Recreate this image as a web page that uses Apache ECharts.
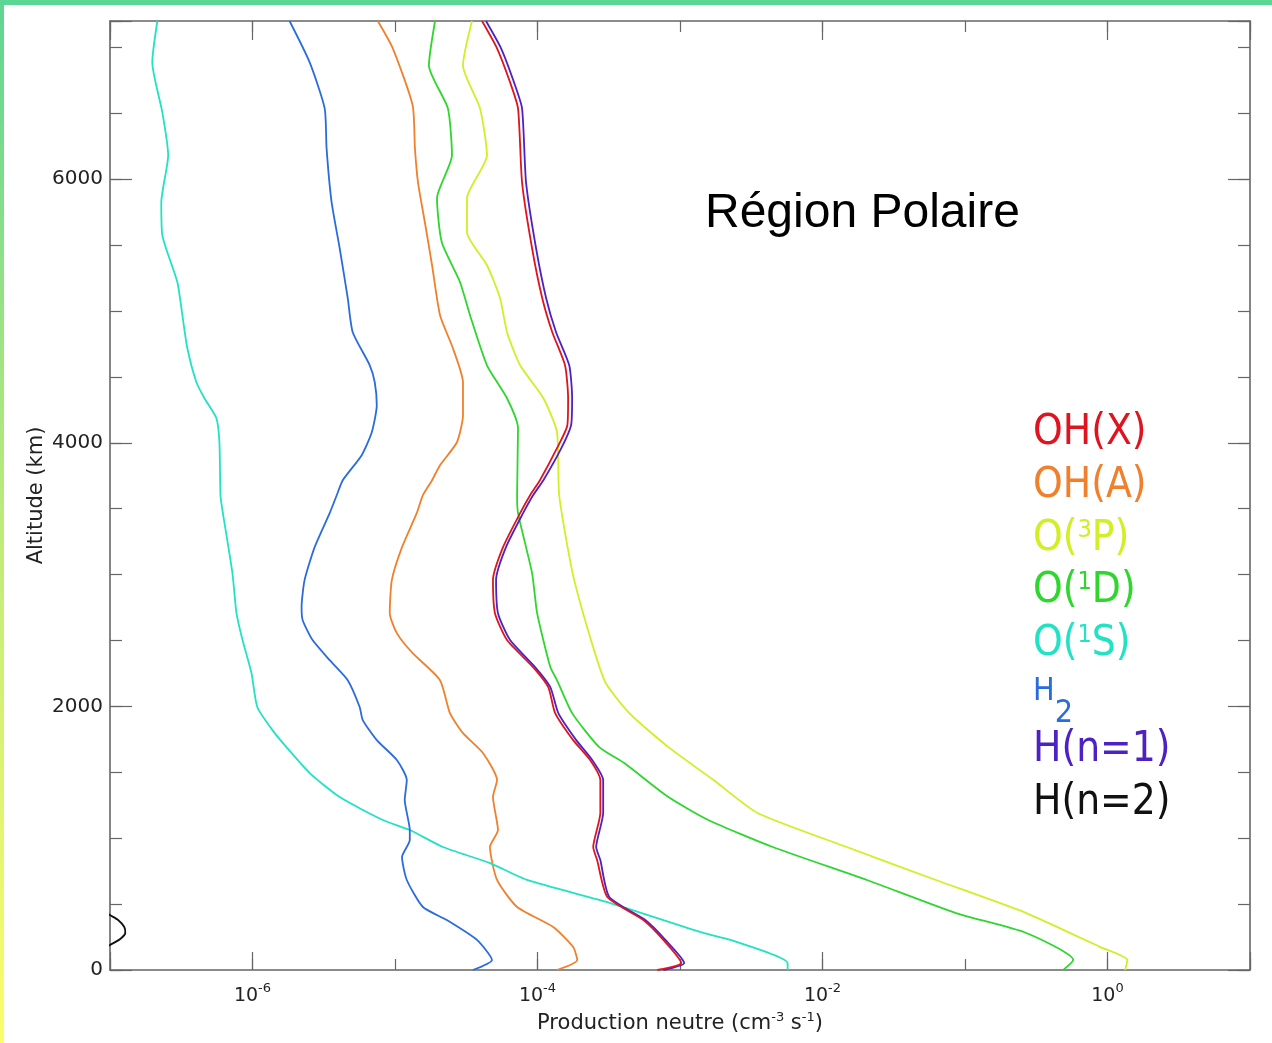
<!DOCTYPE html>
<html>
<head>
<meta charset="utf-8">
<script src="https://cdn.jsdelivr.net/npm/echarts@6/dist/echarts.min.js"></script>
<style>html,body{margin:0;padding:0;background:#fff;}#c{width:1272px;height:1043px;}</style>
</head>
<body>
<div id="c"></div>
<script>
// ---- data: [production (cm^-3 s^-1), altitude (km)] ----
const seriesNames = ['OH(X)', 'OH(A)', 'O(3P)', 'O(1D)', 'O(1S)', 'H2', 'H(n=1)', 'H(n=2)'];

const ohX = [[4.08e-5,7200],[5.2e-5,6993],[6.42e-5,6735],[7.3e-5,6537],[7.79e-5,5976],[9.16e-5,5476],[1.08e-4,5097],[1.27e-4,4839],[1.56e-4,4588],[1.64e-4,4338],[1.62e-4,4133],[1.37e-4,3959],[1.04e-4,3716],[8.87e-5,3602],[7.55e-5,3466],[5.73e-5,3208],[4.87e-5,2958],[5.03e-5,2707],[6.11e-5,2503],[9.31e-5,2298],[1.19e-4,2146],[1.33e-4,1949],[1.78e-4,1744],[2.34e-4,1593],[2.76e-4,1441],[2.76e-4,1191],[2.46e-4,933],[2.62e-4,834],[3.09e-4,554],[5.53e-4,379],[7.64e-4,228],[1.02e-3,53],[6.93e-4,0]];

const ohA = [[7.57e-6,7200],[9.65e-6,6993],[1.33e-5,6560],[1.38e-5,6234],[1.45e-5,5976],[1.62e-5,5673],[1.82e-5,5347],[2.07e-5,4968],[2.55e-5,4717],[3.0e-5,4459],[3.0e-5,4209],[2.72e-5,4004],[2.07e-5,3830],[1.82e-5,3716],[1.57e-5,3602],[1.42e-5,3466],[1.12e-5,3208],[9.5e-6,2958],[9.19e-6,2707],[1.03e-5,2556],[1.33e-5,2404],[2.07e-5,2199],[2.43e-5,1949],[3.0e-5,1797],[4.14e-5,1646],[5.2e-5,1441],[4.87e-5,1312],[5.28e-5,1062],[4.64e-5,933],[5.2e-5,683],[7.19e-5,478],[1.29e-4,326],[1.78e-4,174],[1.9e-4,76],[1.37e-4,0]];

const o3P = [[3.47e-5,7200],[3.0e-5,6863],[3.95e-5,6537],[4.42e-5,6181],[3.2e-5,5855],[3.2e-5,5597],[4.42e-5,5347],[5.46e-5,5097],[6.11e-5,4839],[7.55e-5,4588],[1.1e-4,4338],[1.37e-4,4080],[1.42e-4,3602],[1.81e-4,2958],[2.94e-4,2199],[4.41e-4,1949],[8.29e-4,1691],[1.72e-3,1441],[3.5e-3,1191],[1.48e-2,933],[6.25e-2,683],[2.69e-1,432],[8.9e-1,174],[1.38,76],[1.33,0]];

const o1D = [[1.91e-5,7200],[1.73e-5,6863],[2.35e-5,6537],[2.51e-5,6181],[1.97e-5,5855],[2.13e-5,5521],[2.86e-5,5218],[3.36e-5,4968],[4.42e-5,4588],[6.11e-5,4338],[7.3e-5,4111],[7.19e-5,3602],[7.3e-5,3466],[9.16e-5,3011],[9.94e-5,2707],[1.23e-4,2298],[1.37e-4,2199],[1.75e-4,1949],[2.71e-4,1691],[4.06e-4,1570],[8.29e-4,1312],[1.58e-3,1138],[4.47e-3,933],[2.05e-2,683],[8.64e-2,432],[2.69e-1,281],[5.75e-1,76],[4.89e-1,0]];

const o1S = [[2.15e-7,7200],[1.98e-7,6886],[2.33e-7,6507],[2.56e-7,6181],[2.29e-7,5825],[2.33e-7,5574],[2.97e-7,5218],[3.22e-7,4968],[3.49e-7,4717],[4.04e-7,4459],[4.6e-7,4338],[5.58e-7,4186],[5.86e-7,4004],[5.96e-7,3602],[6.15e-7,3489],[7.23e-7,3011],[7.72e-7,2707],[8.51e-7,2503],[9.84e-7,2252],[1.08e-6,1995],[1.38e-6,1820],[1.73e-6,1691],[2.52e-6,1494],[4.09e-6,1312],[8.21e-6,1138],[1.27e-5,1062],[2.17e-5,933],[4.64e-5,811],[8.45e-5,683],[3.24e-4,508],[1.46e-3,281],[2.26e-3,228],[5.69e-3,53],[5.69e-3,0]];

const h2 = [[1.82e-6,7200],[2.52e-6,6886],[3.21e-6,6537],[3.31e-6,6234],[3.59e-6,5825],[4.09e-6,5476],[4.66e-6,5097],[5.05e-6,4839],[6.65e-6,4588],[7.21e-6,4459],[7.45e-6,4285],[6.87e-6,4080],[5.84e-6,3906],[4.3e-6,3716],[3.9e-6,3602],[3.48e-6,3466],[2.73e-6,3208],[2.32e-6,2958],[2.21e-6,2753],[2.25e-6,2654],[2.64e-6,2503],[3.48e-6,2351],[4.66e-6,2199],[5.65e-6,1995],[5.94e-6,1896],[7.45e-6,1744],[1.03e-5,1593],[1.21e-5,1441],[1.17e-5,1289],[1.27e-5,1062],[1.27e-5,986],[1.12e-5,857],[1.21e-5,683],[1.57e-5,478],[2.31e-5,379],[3.76e-5,228],[4.79e-5,76],[3.52e-5,0]];

const hn1 = [[4.35e-5,7200],[5.55e-5,6993],[6.84e-5,6735],[7.79e-5,6537],[8.31e-5,5976],[9.77e-5,5476],[1.15e-4,5097],[1.35e-4,4839],[1.67e-4,4588],[1.75e-4,4338],[1.72e-4,4133],[1.47e-4,3959],[1.1e-4,3716],[9.31e-5,3602],[7.92e-5,3466],[6.01e-5,3208],[5.12e-5,2958],[5.28e-5,2707],[6.42e-5,2503],[9.62e-5,2298],[1.23e-4,2146],[1.4e-4,1949],[1.87e-4,1744],[2.42e-4,1593],[2.89e-4,1441],[2.89e-4,1191],[2.58e-4,933],[2.76e-4,834],[3.19e-4,554],[5.71e-4,379],[7.9e-4,228],[1.07e-3,53],[7.64e-4,0]];

const hn2 = [[9.0e-8,455],[1.0e-7,417],[1.14e-7,379],[1.26e-7,326],[1.28e-7,281],[1.18e-7,235],[1.0e-7,190],[9.0e-8,160]];

const seriesData = [ohX, ohA, o3P, o1D, o1S, h2, hn1, hn2];
const xTickExponents = [-6, -4, -2, 0];          // labelled decades
const yTickLabels = [0, 2000, 4000, 6000];        // labelled altitudes
const titleText = 'Région Polaire';

// ---- styles ----
const colors = ['#e0141e', '#f0802c', '#d2ee24', '#2ed62e', '#22e2c4', '#2a6cdc', '#4c22c4', '#111111'];
const axisColor = '#666';
const font = "'DejaVu Sans', sans-serif";
const legendFont = "'DejaVu Sans Condensed', 'DejaVu Sans', sans-serif";
const legendLeft = 1033, legendTop = 433, legendStep = 52.8;

const chart = echarts.init(document.getElementById('c'), null, {renderer: 'canvas'});

const baseX = (pos, base, len, extra) => Object.assign({
  type: 'log', logBase: base, position: pos, min: 1e-7, max: 10,
  axisLine: {show: base === 10, onZero: false, lineStyle: {color: axisColor, width: 1.6}},
  axisTick: {show: true, inside: true, length: len, lineStyle: {color: axisColor, width: 1.2}},
  axisLabel: {show: false},
  splitLine: {show: false}, minorTick: {show: false}, minorSplitLine: {show: false}
}, extra || {});

const baseY = (pos, interval, len, extra) => Object.assign({
  type: 'value', position: pos, min: 0, max: 7200, interval: interval,
  axisLine: {show: interval === 500, onZero: false, lineStyle: {color: axisColor, width: 1.6}},
  axisTick: {show: true, inside: true, length: len, lineStyle: {color: axisColor, width: 1.2}},
  axisLabel: {show: false},
  splitLine: {show: false}
}, extra || {});

// legend drawn as coloured text (no symbols), one entry per series
const legendRich = {
  sup: {fontFamily: legendFont, fontSize: 25, lineHeight: 20, verticalAlign: 'top'},
  hh: {fontFamily: legendFont, fontSize: 32, lineHeight: 42, verticalAlign: 'top'},
  sub: {fontFamily: legendFont, fontSize: 32, lineHeight: 12, verticalAlign: 'bottom', padding: [0, 0, -12, 0]}
};
const legendLabel = n => n === 'H2' ? '{hh|H}{sub|2}' : n.replace(/\((\d)([A-Z])\)/, '({sup|$1}$2)');
const legendItems = seriesNames.map((n, i) => ({
  type: 'text', silent: true, x: legendLeft, y: legendTop + i * legendStep,
  style: {text: legendLabel(n), fill: colors[i], fontFamily: legendFont, fontSize: 42, lineHeight: 42,
    verticalAlign: 'middle', align: 'left', rich: legendRich}
}));

const option = {
  animation: false,
  backgroundColor: '#fff',
  grid: {left: 110, right: 22, top: 21, bottom: 73, containLabel: false},
  xAxis: [
    baseX('bottom', 10, 11),
    baseX('bottom', 100, 18, {
      axisLabel: {
        show: true, margin: 12,
        formatter: v => {
          const e = Math.round(Math.log10(v));
          return xTickExponents.indexOf(e) >= 0 ? '{b|10}{s|' + e + '}' : '';
        },
        rich: {
          b: {fontSize: 19, lineHeight: 24, fontFamily: font, color: '#222', verticalAlign: 'bottom'},
          s: {fontSize: 13, lineHeight: 14, fontFamily: font, color: '#222', verticalAlign: 'top'}
        }
      },
      name: 'Production neutre (cm{s|-3} s{s|-1})',
      nameLocation: 'middle', nameGap: 39,
      nameTextStyle: {fontSize: 21, lineHeight: 26, fontFamily: font, color: '#222',
        rich: {s: {fontSize: 13, lineHeight: 14, fontFamily: font, color: '#222', verticalAlign: 'top'}}}
    }),
    baseX('top', 10, 11),
    baseX('top', 100, 19)
  ],
  yAxis: [
    baseY('left', 500, 12),
    baseY('left', 2000, 22, {
      axisLabel: {show: true, margin: 7, fontSize: 20, fontFamily: font, color: '#222',
        formatter: v => yTickLabels.indexOf(v) >= 0 ? String(v) : ''},
      name: 'Altitude (km)', nameLocation: 'middle', nameGap: 63, nameMoveOverlap: false,
      nameTextStyle: {fontSize: 21, fontFamily: font, color: '#222'}
    }),
    baseY('right', 500, 12),
    baseY('right', 2000, 22)
  ],
  graphic: [
    {type: 'rect', silent: true, shape: {x: 0, y: 0, width: 1272, height: 5}, style: {fill: '#5dd593'}},
    {type: 'rect', silent: true, shape: {x: 0, y: 0, width: 4, height: 1043},
      style: {fill: new echarts.graphic.LinearGradient(0, 0, 0, 1, [
        {offset: 0, color: '#5dd593'}, {offset: 0.5, color: '#bdeb7a'}, {offset: 1, color: '#fcfd68'}])}},
    {type: 'text', silent: true, x: 705, y: 214,
      style: {text: titleText, fontSize: 48, fontFamily: "'Liberation Sans', Arial, sans-serif", fill: '#000', verticalAlign: 'middle'}}
  ].concat(legendItems),
  series: seriesNames.map((n, i) => ({
    name: n, type: 'line', xAxisIndex: 0, yAxisIndex: 0,
    data: seriesData[i], showSymbol: false, symbol: 'none',
    smooth: 0.2, clip: true,
    lineStyle: {color: colors[i], width: 1.8}, itemStyle: {color: colors[i]},
    z: i === 0 ? 3 : 2
  }))
};
chart.setOption(option);
</script>
</body>
</html>
